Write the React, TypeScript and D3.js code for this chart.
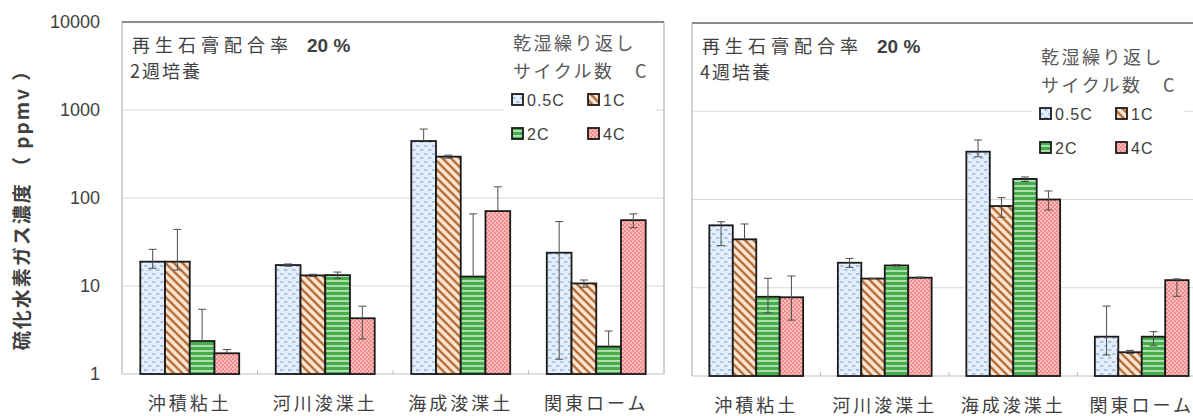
import { useEffect, useRef } from "react";
import * as d3 from "d3";

// categories / series
const categories = ["沖積粘土", "河川浚渫土", "海成浚渫土", "関東ローム"];
const series = ["0.5C", "1C", "2C", "4C"];
const yTicks = [1, 10, 100, 1000, 10000];

// 2週培養 (rows = series, cols = categories)
const week2Mean = [
  [18.9, 17.3, 444, 23.9],
  [18.9, 13.2, 295, 10.7],
  [2.37, 13.3, 12.8, 2.05],
  [1.72, 4.3, 71, 56],
];
const week2Upper = [
  [26.1, 17.8, 608, 54],
  [44, 13.6, 307, 11.7],
  [5.44, 14.4, 66, 3.08],
  [1.9, 5.9, 134, 66],
];
const week2Lower = [
  [15.9, 16.8, 444, 1.47],
  [15.2, 12.8, 283, 9.7],
  [2.37, 12.2, 12.8, 2.05],
  [1.72, 2.5, 71, 46],
];

// 4週培養
const week4Mean = [
  [51, 19.2, 348, 2.79],
  [35.4, 12.7, 84.4, 1.86],
  [7.9, 17.9, 171, 2.79],
  [7.8, 13.0, 100, 12.2],
];
const week4Upper = [
  [56, 21.5, 472, 6.2],
  [52.8, 12.8, 105, 1.95],
  [12.8, 18.3, 180, 3.18],
  [13.6, 13.2, 125, 12.6],
];
const week4Lower = [
  [30, 17, 305, 1.73],
  [35.4, 12.7, 63, 1.8],
  [5.2, 17.6, 160, 2.2],
  [4.3, 12.8, 76, 8],
];

const patternIds = ["p05", "p1", "p2", "p4"];
const jp = "'Noto Sans CJK JP', sans-serif";
const num = "'Liberation Sans', Arial, sans-serif";

export default function App() {
  const ref = useRef<SVGSVGElement>(null);

  useEffect(() => {
    const svg = d3.select(ref.current);
    svg.selectAll("*").remove();

    // patterns
    const defs = svg.append("defs");
    const p05 = defs.append("pattern").attr("id", "p05").attr("patternUnits", "userSpaceOnUse").attr("width", 8).attr("height", 8);
    p05.append("rect").attr("width", 8).attr("height", 8).attr("fill", "#e4eefa");
    p05.append("line").attr("x1", 0).attr("y1", 2).attr("x2", 3.5).attr("y2", 2).attr("stroke", "#86aadb").attr("stroke-width", 1.2);
    p05.append("line").attr("x1", 4).attr("y1", 6).attr("x2", 7.5).attr("y2", 6).attr("stroke", "#86aadb").attr("stroke-width", 1.2);

    const p1 = defs.append("pattern").attr("id", "p1").attr("patternUnits", "userSpaceOnUse").attr("width", 6).attr("height", 6).attr("patternTransform", "rotate(-45)");
    p1.append("rect").attr("width", 6).attr("height", 6).attr("fill", "#fde8d6");
    p1.append("line").attr("x1", 3).attr("y1", 0).attr("x2", 3).attr("y2", 6).attr("stroke", "#b06a36").attr("stroke-width", 2.4);

    const p2 = defs.append("pattern").attr("id", "p2").attr("patternUnits", "userSpaceOnUse").attr("width", 6).attr("height", 5);
    p2.append("rect").attr("width", 6).attr("height", 5).attr("fill", "#45ae4b");
    p2.append("line").attr("x1", 0).attr("y1", 1).attr("x2", 6).attr("y2", 1).attr("stroke", "#e6f5e4").attr("stroke-width", 1.3);

    const p4 = defs.append("pattern").attr("id", "p4").attr("patternUnits", "userSpaceOnUse").attr("width", 4).attr("height", 4);
    p4.append("rect").attr("width", 4).attr("height", 4).attr("fill", "#f48a8a");
    p4.append("circle").attr("cx", 1).attr("cy", 1).attr("r", 0.8).attr("fill", "#fff");
    p4.append("circle").attr("cx", 3).attr("cy", 3).attr("r", 0.8).attr("fill", "#fff");

    function drawPanel(
      left: number,
      right: number,
      top: number,
      bottom: number,
      mean: number[][],
      upper: number[][],
      lower: number[][],
      weekLabel: string,
      legendX: number,
      legendY: number,
      showYLabels: boolean
    ) {
      const g = svg.append("g");
      const x = d3.scaleBand().domain(categories).range([left, right]).paddingInner(0.27).paddingOuter(0.135);
      const xs = d3.scaleBand().domain(series).range([0, x.bandwidth()]);
      const y = d3.scaleLog().domain([1, 10000]).range([bottom, top]);

      // gridlines
      g.selectAll(".grid")
        .data(yTicks.slice(1, -1))
        .enter()
        .append("line")
        .attr("x1", left)
        .attr("x2", right)
        .attr("y1", (d) => y(d))
        .attr("y2", (d) => y(d))
        .attr("stroke", "#d9d9d9");

      // border
      g.append("line").attr("x1", left).attr("x2", left).attr("y1", top).attr("y2", bottom).attr("stroke", "#a6a6a6");
      g.append("line").attr("x1", right).attr("x2", right).attr("y1", top).attr("y2", bottom).attr("stroke", "#a6a6a6");
      g.append("line").attr("x1", left).attr("x2", right).attr("y1", top).attr("y2", top).attr("stroke", "#8c8c8c").attr("stroke-width", 2);
      g.append("line").attr("x1", left).attr("x2", right).attr("y1", bottom).attr("y2", bottom).attr("stroke", "#bfbfbf");

      // category separators
      const step = x.step();
      g.selectAll(".sep")
        .data(d3.range(1, categories.length))
        .enter()
        .append("line")
        .attr("x1", (i) => left + i * step)
        .attr("x2", (i) => left + i * step)
        .attr("y1", bottom - 4)
        .attr("y2", bottom)
        .attr("stroke", "#bfbfbf");

      if (showYLabels) {
        g.selectAll(".yl")
          .data(yTicks)
          .enter()
          .append("text")
          .attr("x", left - 22)
          .attr("y", (d) => y(d) + 6)
          .attr("text-anchor", "end")
          .attr("font-family", num)
          .attr("font-size", 18)
          .attr("fill", "#404040")
          .text((d) => String(d));
      }

      // bars
      series.forEach((s, si) => {
        categories.forEach((c, ci) => {
          const bx = (x(c) as number) + (xs(s) as number);
          const bw = xs.bandwidth();
          const v = mean[si][ci];
          g.append("rect")
            .attr("x", bx)
            .attr("y", y(v))
            .attr("width", bw)
            .attr("height", y(1) - y(v))
            .attr("fill", `url(#${patternIds[si]})`)
            .attr("stroke", "#1a1a1a")
            .attr("stroke-width", 1.8);
          const cx = bx + bw / 2;
          const hi = upper[si][ci];
          const lo = lower[si][ci];
          const eb = g.append("g").attr("stroke", "#4d4d4d").attr("stroke-width", 1);
          eb.append("line").attr("x1", cx).attr("x2", cx).attr("y1", y(hi)).attr("y2", y(lo));
          eb.append("line").attr("x1", cx - 4).attr("x2", cx + 4).attr("y1", y(hi)).attr("y2", y(hi));
          if (lo < v) eb.append("line").attr("x1", cx - 4).attr("x2", cx + 4).attr("y1", y(lo)).attr("y2", y(lo));
        });
      });

      // category labels
      g.selectAll(".xl")
        .data(categories)
        .enter()
        .append("text")
        .attr("x", (d) => (x(d) as number) + x.bandwidth() / 2)
        .attr("y", bottom + 36)
        .attr("text-anchor", "middle")
        .attr("font-family", jp)
        .attr("font-size", 18)
        .attr("letter-spacing", 3)
        .attr("fill", "#404040")
        .text((d) => d);

      // title
      const t = g.append("text").attr("x", left + 10).attr("y", top + 30).attr("font-family", jp).attr("font-size", 18).attr("fill", "#404040");
      t.append("tspan").attr("letter-spacing", 5).text("再生石膏配合率");
      t.append("tspan").attr("dx", 14).attr("font-weight", "bold").attr("font-family", num).attr("font-size", 19).text("20 %");
      g.append("text")
        .attr("x", left + 8)
        .attr("y", top + 56)
        .attr("font-family", jp)
        .attr("font-size", 18)
        .attr("letter-spacing", 2)
        .attr("fill", "#404040")
        .text(weekLabel);

      // legend
      g.append("rect").attr("x", legendX - 8).attr("y", legendY - 16).attr("width", 152).attr("height", 66).attr("fill", "#fff");
      g.append("text")
        .attr("x", legendX + 1)
        .attr("y", legendY - 50)
        .attr("font-family", jp)
        .attr("font-size", 18)
        .attr("letter-spacing", 2.5)
        .attr("fill", "#595959")
        .text("乾湿繰り返し");
      g.append("text")
        .attr("x", legendX + 1)
        .attr("y", legendY - 22)
        .attr("font-family", jp)
        .attr("font-size", 18)
        .attr("letter-spacing", 2.5)
        .attr("fill", "#595959")
        .text("サイクル数\u3000C");
      series.forEach((s, si) => {
        const lx = legendX + (si % 2) * 76;
        const ly = legendY + Math.floor(si / 2) * 34;
        g.append("rect")
          .attr("x", lx)
          .attr("y", ly - 6)
          .attr("width", 11)
          .attr("height", 11)
          .attr("fill", `url(#${patternIds[si]})`)
          .attr("stroke", "#1a1a1a")
          .attr("stroke-width", 1.8);
        g.append("text")
          .attr("x", lx + 15)
          .attr("y", ly + 6)
          .attr("font-family", num)
          .attr("font-size", 16)
          .attr("letter-spacing", 1)
          .attr("fill", "#404040")
          .text(s);
      });
    }

    drawPanel(122, 664, 22, 374, week2Mean, week2Upper, week2Lower, "2週培養", 512, 100, true);
    drawPanel(692, 1206, 23, 376, week4Mean, week4Upper, week4Lower, "4週培養", 1040, 114, false);

    // y axis title
    svg
      .append("text")
      .attr("transform", "translate(29,205) rotate(-90)")
      .attr("text-anchor", "middle")
      .attr("font-family", jp)
      .attr("font-size", 19)
      .attr("font-weight", "bold")
      .attr("letter-spacing", 2)
      .attr("fill", "#404040")
      .text("硫化水素ガス濃度 （ ppmv ）");
  }, []);

  return <svg ref={ref} width={1193} height={416} style={{ position: "absolute", left: 0, top: 0, background: "#fff" }} />;
}
